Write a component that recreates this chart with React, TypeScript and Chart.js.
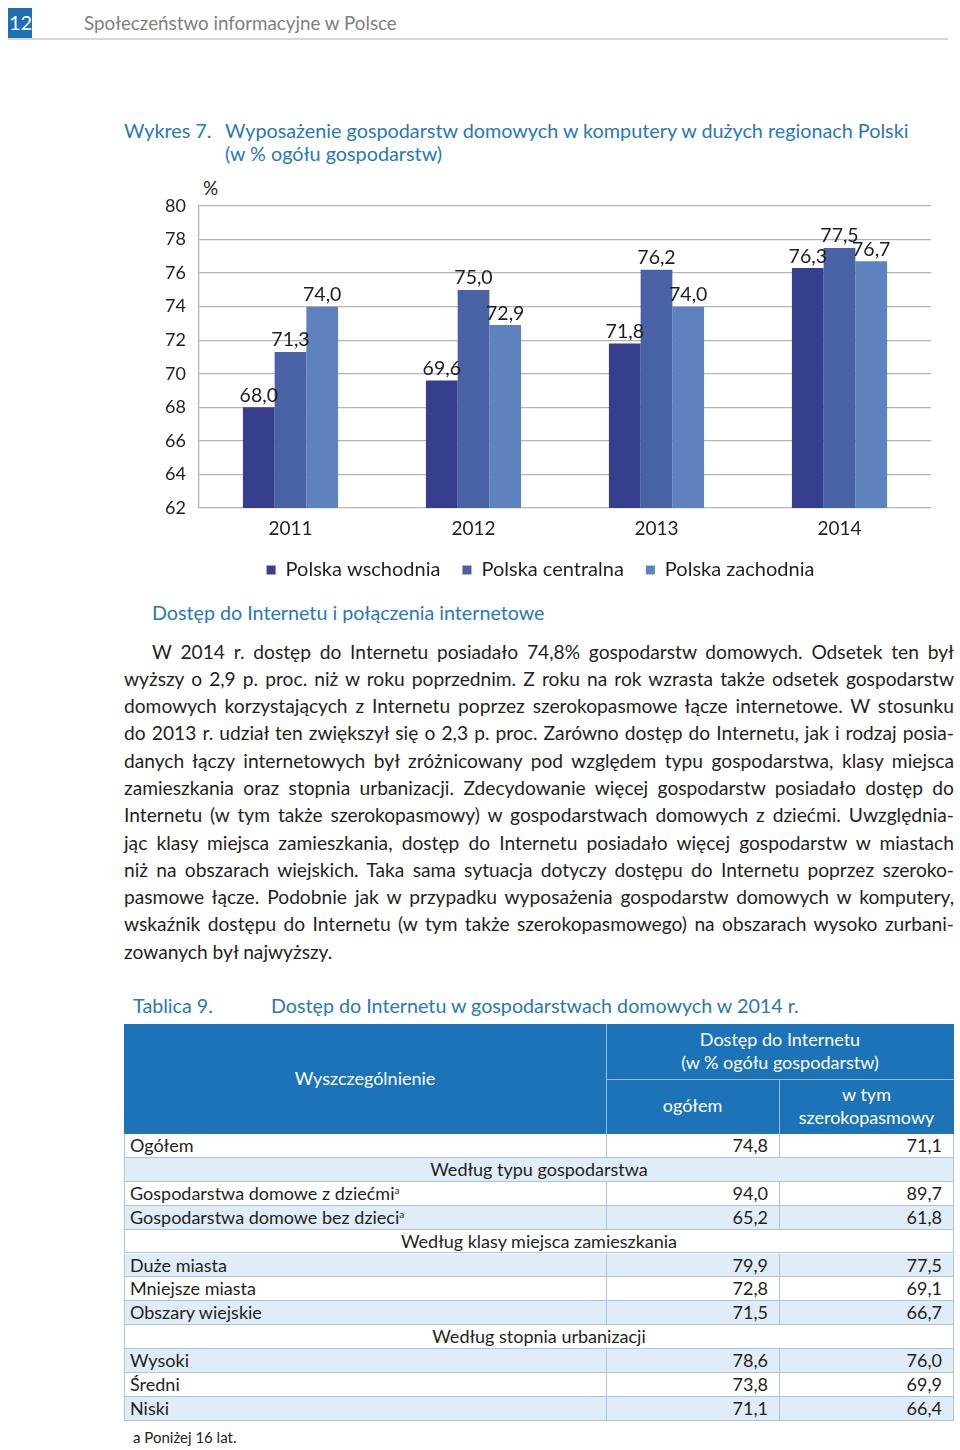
import React, { useEffect, useRef } from "react";
import { Chart, registerables } from "chart.js";

Chart.register(...registerables);

// ---------- chart data ----------
const CATEGORIES = ["2011", "2012", "2013", "2014"];
const SERIES_NAMES = ["Polska wschodnia", "Polska centralna", "Polska zachodnia"];
const WSCHODNIA = [68.0, 69.6, 71.8, 76.3];
const CENTRALNA = [71.3, 75.0, 76.2, 77.5];
const ZACHODNIA = [74.0, 72.9, 74.0, 76.7];
const Y_MIN = 62;
const Y_MAX = 80;
const Y_STEP = 2;

// ---------- table data ----------
const ROW_LABELS = [
  "Ogółem",
  "Według typu gospodarstwa",
  "Gospodarstwa domowe z dziećmi",
  "Gospodarstwa domowe bez dzieci",
  "Według klasy miejsca zamieszkania",
  "Duże miasta",
  "Mniejsze miasta",
  "Obszary wiejskie",
  "Według stopnia urbanizacji",
  "Wysoki",
  "Średni",
  "Niski",
];
const ROW_IS_SECTION = [false, true, false, false, true, false, false, false, true, false, false, false];
const ROW_FOOTNOTE = [false, false, true, true, false, false, false, false, false, false, false, false];
const COL_TOTAL = ["74,8", "", "94,0", "65,2", "", "79,9", "72,8", "71,5", "", "78,6", "73,8", "71,1"];
const COL_BROADBAND = ["71,1", "", "89,7", "61,8", "", "77,5", "69,1", "66,7", "", "76,0", "69,9", "66,4"];

const PARAGRAPH_LINES = [
  "W 2014 r. dostęp do Internetu posiadało 74,8% gospodarstw domowych. Odsetek ten był",
  "wyższy o 2,9 p. proc. niż w roku poprzednim. Z roku na rok wzrasta także odsetek gospodarstw",
  "domowych korzystających z Internetu poprzez szerokopasmowe łącze internetowe. W stosunku",
  "do 2013 r. udział ten zwiększył się o 2,3 p. proc. Zarówno dostęp do Internetu, jak i rodzaj posia-",
  "danych łączy internetowych był zróżnicowany pod względem typu gospodarstwa, klasy miejsca",
  "zamieszkania oraz stopnia urbanizacji. Zdecydowanie więcej gospodarstw posiadało dostęp do",
  "Internetu (w tym także szerokopasmowy) w gospodarstwach domowych z dziećmi. Uwzględnia-",
  "jąc klasy miejsca zamieszkania, dostęp do Internetu posiadało więcej gospodarstw w miastach",
  "niż na obszarach wiejskich. Taka sama sytuacja dotyczy dostępu do Internetu poprzez szeroko-",
  "pasmowe łącze. Podobnie jak w przypadku wyposażenia gospodarstw domowych w komputery,",
  "wskaźnik dostępu do Internetu (w tym także szerokopasmowego) na obszarach wysoko zurbani-",
  "zowanych był najwyższy.",
];

const FONT = 'Lato, "Noto Sans", sans-serif';
const BLUE_TEXT = "#2a78b5";
const HEADER_BLUE = "#1d73b8";
const LIGHT_ROW = "#e0ecf7";
const GRID_LINE = "#a9c6df";
const TEXT = "#231f20";
const BAR_COLORS = ["#353f8e", "#4862a5", "#5d82bd"];

const valueLabels = {
  id: "valueLabels",
  afterDatasetsDraw(chart: any) {
    const ctx = chart.ctx;
    ctx.save();
    ctx.font = `19.5px ${FONT}`;
    ctx.fillStyle = "#1d1d1d";
    ctx.textAlign = "center";
    ctx.textBaseline = "bottom";
    chart.data.datasets.forEach((ds: any, i: number) => {
      const meta = chart.getDatasetMeta(i);
      meta.data.forEach((bar: any, j: number) => {
        const v = ds.data[j] as number;
        ctx.fillText(v.toFixed(1).replace(".", ","), bar.x, bar.y - 2);
      });
    });
    ctx.restore();
  },
};

function BarChart() {
  const ref = useRef<HTMLCanvasElement | null>(null);
  useEffect(() => {
    if (!ref.current) return;
    const seriesData = [WSCHODNIA, CENTRALNA, ZACHODNIA];
    const chart = new Chart(ref.current, {
      type: "bar",
      data: {
        labels: CATEGORIES,
        datasets: SERIES_NAMES.map((name, i) => ({
          label: name,
          data: seriesData[i],
          backgroundColor: BAR_COLORS[i],
          borderWidth: 0,
          barPercentage: 1,
          categoryPercentage: 0.52,
        })),
      },
      options: {
        responsive: true,
        maintainAspectRatio: false,
        animation: false,
        layout: { padding: { top: 36, right: 9, left: 0, bottom: 0 } },
        plugins: {
          tooltip: { enabled: false },
          legend: {
            position: "bottom",
            labels: {
              boxWidth: 9,
              boxHeight: 9,
              padding: 22,
              color: TEXT,
              font: { family: FONT, size: 20, lineHeight: 1.0 },
            },
          },
        },
        scales: {
          x: {
            grid: { display: false, drawTicks: false },
            border: { display: false },
            ticks: { color: TEXT, padding: 11.5, font: { family: FONT, size: 19, lineHeight: 1.0 } },
            afterFit: (s: any) => {
              s.height = s.height - 12;
            },
          },
          y: {
            min: Y_MIN,
            max: Y_MAX,
            ticks: { stepSize: Y_STEP, color: TEXT, padding: 13, font: { family: FONT, size: 18 } },
            grid: { color: "#b4b4b4", lineWidth: 1.3, drawTicks: false },
            border: { color: "#b4b4b4", width: 1.3 },
            afterFit: (s: any) => {
              s.width = 49;
            },
          },
        },
      },
      plugins: [valueLabels],
    });
    return () => chart.destroy();
  }, []);
  return (
    <div style={{ position: "absolute", left: 150, top: 170, width: 790, height: 420 }}>
      <canvas ref={ref} />
    </div>
  );
}

function Txt(props: { x: number; y: number; size: number; color?: string; children: any; style?: any }) {
  const lh = props.size * 1.3;
  return (
    <div
      style={{
        position: "absolute",
        left: props.x,
        top: props.y - lh / 2,
        lineHeight: `${lh}px`,
        fontSize: props.size,
        color: props.color || TEXT,
        whiteSpace: "nowrap",
        ...(props.style || {}),
      }}
    >
      {props.children}
    </div>
  );
}

function Table() {
  const L = 124;
  const C1 = 606;
  const C2 = 779;
  const R = 954;
  const HT = 1024;
  const HM = 1079;
  const HB = 1134;
  const RH = 23.9;
  const fs = 18;
  const cells: any[] = [];
  cells.push(
    <div key="hbg" style={{ position: "absolute", left: L, top: HT, width: R - L, height: HB - HT, background: HEADER_BLUE }} />
  );
  cells.push(<div key="hv1" style={{ position: "absolute", left: C1, top: HT, width: 1, height: HB - HT, background: "#8fbfe3" }} />);
  cells.push(<div key="hh1" style={{ position: "absolute", left: C1, top: HM, width: R - C1, height: 1, background: "#8fbfe3" }} />);
  cells.push(<div key="hv2" style={{ position: "absolute", left: C2, top: HM, width: 1, height: HB - HM, background: "#8fbfe3" }} />);
  const hdr = (key: string, x0: number, x1: number, y: number, text: string) => (
    <div
      key={key}
      style={{
        position: "absolute",
        left: x0,
        width: x1 - x0,
        top: y - 12,
        lineHeight: "24px",
        textAlign: "center",
        color: "#ffffff",
        fontSize: fs,
      }}
    >
      {text}
    </div>
  );
  cells.push(hdr("h1", L, C1, 1078, "Wyszczególnienie"));
  cells.push(hdr("h2", C1, R, 1039, "Dostęp do Internetu"));
  cells.push(hdr("h3", C1, R, 1062, "(w % ogółu gospodarstw)"));
  cells.push(hdr("h4", C1, C2, 1105, "ogółem"));
  cells.push(hdr("h5", C2, R, 1094, "w tym"));
  cells.push(hdr("h6", C2, R, 1117, "szerokopasmowy"));

  ROW_LABELS.forEach((label, i) => {
    const top = HB + i * RH;
    const bg = i % 2 === 1 ? LIGHT_ROW : "#ffffff";
    cells.push(
      <div
        key={"r" + i}
        style={{
          position: "absolute",
          left: L,
          top,
          width: R - L,
          height: RH,
          background: bg,
          borderLeft: `1px solid ${GRID_LINE}`,
          borderRight: `1px solid ${GRID_LINE}`,
          borderBottom: `1px solid ${GRID_LINE}`,
          boxSizing: "border-box",
        }}
      />
    );
    const textStyle = {
      position: "absolute" as const,
      top,
      height: RH,
      lineHeight: `${RH}px`,
      fontSize: fs,
      color: TEXT,
      whiteSpace: "nowrap" as const,
    };
    if (ROW_IS_SECTION[i]) {
      cells.push(
        <div key={"t" + i} style={{ ...textStyle, left: L, width: R - L, textAlign: "center" }}>
          {label}
        </div>
      );
    } else {
      cells.push(<div key={"v1" + i} style={{ position: "absolute", left: C1, top, width: 1, height: RH, background: GRID_LINE }} />);
      cells.push(<div key={"v2" + i} style={{ position: "absolute", left: C2, top, width: 1, height: RH, background: GRID_LINE }} />);
      cells.push(
        <div key={"t" + i} style={{ ...textStyle, left: L + 6 }}>
          {label}
          {ROW_FOOTNOTE[i] ? <sup style={{ fontSize: 10, verticalAlign: "6px", lineHeight: 0 }}>a</sup> : null}
        </div>
      );
      cells.push(
        <div key={"a" + i} style={{ ...textStyle, left: C1, width: C2 - C1 - 11, textAlign: "right" }}>
          {COL_TOTAL[i]}
        </div>
      );
      cells.push(
        <div key={"b" + i} style={{ ...textStyle, left: C2, width: R - C2 - 12, textAlign: "right" }}>
          {COL_BROADBAND[i]}
        </div>
      );
    }
  });
  return <>{cells}</>;
}

export default function App() {
  return (
    <div
      style={{
        position: "absolute",
        left: 0,
        top: 0,
        width: 960,
        height: 1450,
        background: "#ffffff",
        fontFamily: FONT,
        color: TEXT,
        overflow: "hidden",
      }}
    >
      {/* page header */}
      <div style={{ position: "absolute", left: 8, top: 8, width: 24, height: 30, background: "#1f6fb3" }} />
      <Txt x={9} y={22} size={20} color="#ffffff">12</Txt>
      <Txt x={84} y={23} size={18.8} color="#7f7f7f">Społeczeństwo informacyjne w Polsce</Txt>
      <div style={{ position: "absolute", left: 8, top: 38, width: 940, height: 2, background: "#d6d6d6" }} />

      {/* chart title */}
      <Txt x={124} y={131} size={19.8} color={BLUE_TEXT}>Wykres 7.</Txt>
      <Txt x={225} y={131} size={19.8} color={BLUE_TEXT}>Wyposażenie gospodarstw domowych w komputery w dużych regionach Polski</Txt>
      <Txt x={225} y={154} size={19.8} color={BLUE_TEXT}>(w % ogółu gospodarstw)</Txt>
      <Txt x={203} y={188} size={19}>%</Txt>

      <BarChart />

      {/* section heading */}
      <Txt x={152} y={613} size={19.7} color={BLUE_TEXT}>Dostęp do Internetu i połączenia internetowe</Txt>

      {/* paragraph */}
      <div style={{ position: "absolute", left: 124, top: 637.5, width: 830, fontSize: 19.2, lineHeight: "27.3px", color: TEXT }}>
        {PARAGRAPH_LINES.map((line, i) => (
          <div
            key={i}
            style={{
              textAlign: "justify",
              textAlignLast: i === PARAGRAPH_LINES.length - 1 ? "left" : "justify",
              paddingLeft: i === 0 ? 28 : 0,
              height: 27.3,
            }}
          >
            {line}
          </div>
        ))}
      </div>

      {/* table title */}
      <Txt x={133} y={1006} size={19.7} color={BLUE_TEXT}>Tablica 9.</Txt>
      <Txt x={271} y={1006} size={19.7} color={BLUE_TEXT}>Dostęp do Internetu w gospodarstwach domowych w 2014 r.</Txt>

      <Table />

      <Txt x={133} y={1438} size={15}>a Poniżej 16 lat.</Txt>
    </div>
  );
}
